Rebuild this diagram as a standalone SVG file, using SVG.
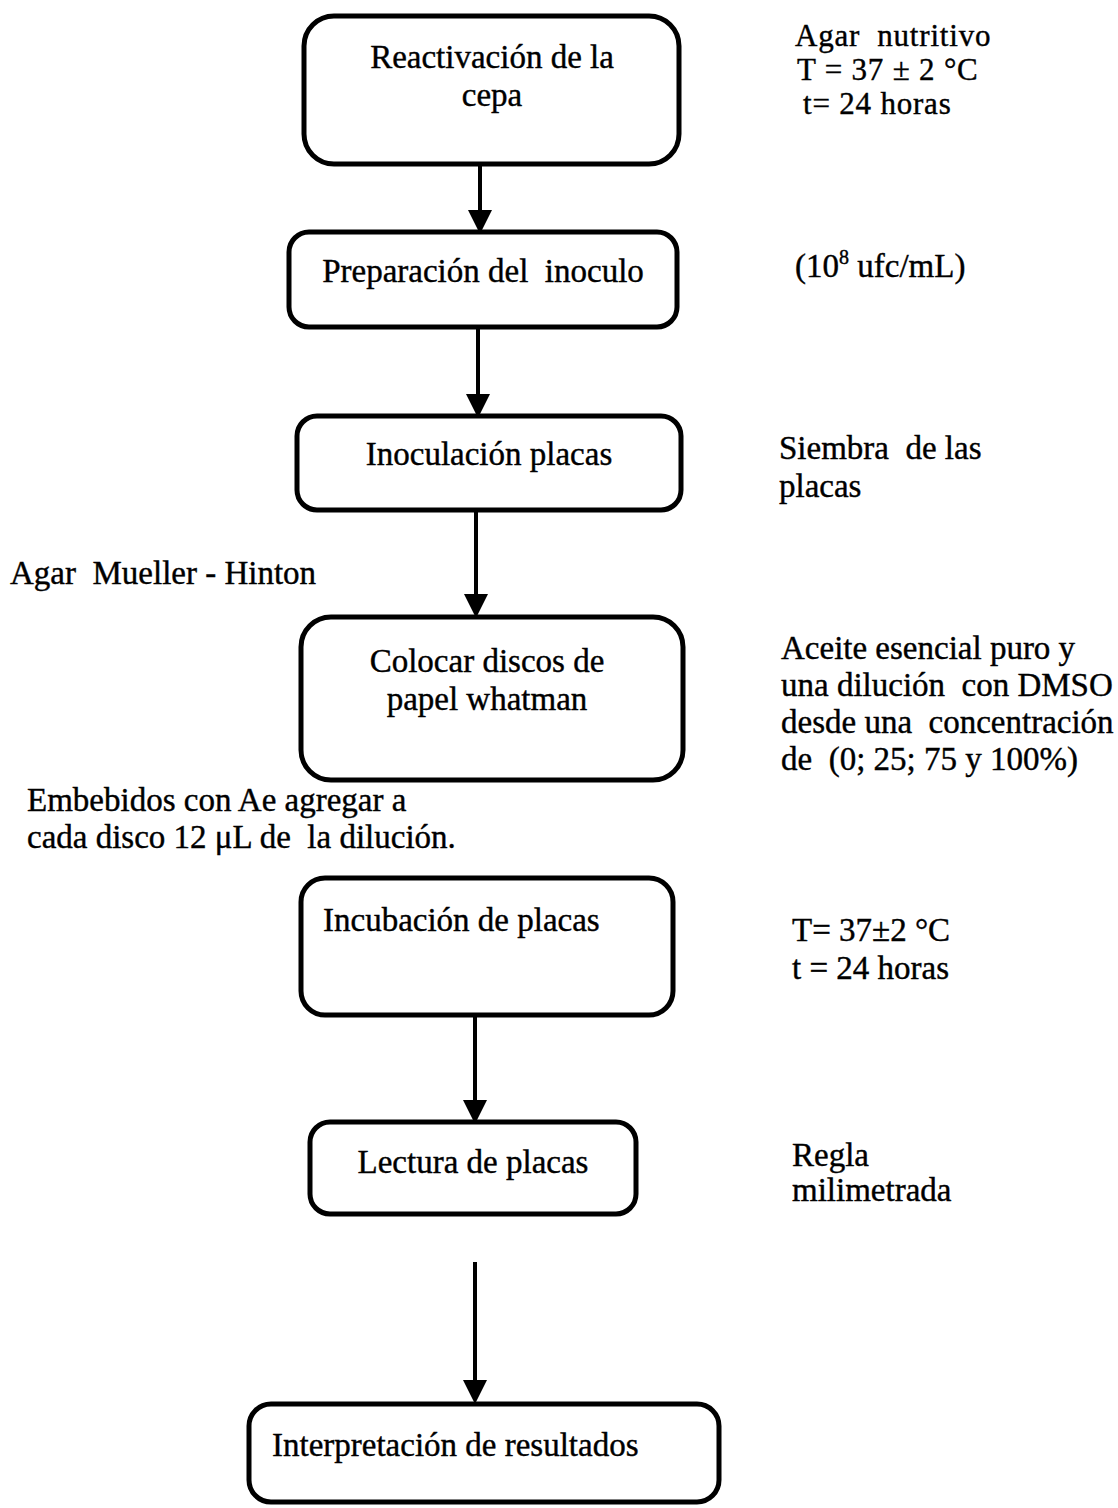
<svg xmlns="http://www.w3.org/2000/svg" width="1118" height="1508" viewBox="0 0 1118 1508">
<style>
.box{fill:none;stroke:#000;stroke-width:5}
.t{font-family:"Liberation Serif","Times New Roman",serif;font-size:33px;fill:#000;stroke:#000;stroke-width:0.4}
.s{font-size:31px;letter-spacing:0.8px}
.c{text-anchor:middle}
.edge{stroke:#000;stroke-width:4;fill:none}
</style>
<defs>
<marker id="ah" markerWidth="6" markerHeight="6" refX="5" refY="3" orient="auto" markerUnits="strokeWidth">
<path d="M0,0 L6,3 L0,6 Z" fill="#000"/>
</marker>
</defs>
<rect width="1118" height="1508" fill="#fff"/>
<g id="connectors">
<line class="edge" x1="480" y1="165" x2="480" y2="230" marker-end="url(#ah)"/>
<line class="edge" x1="478" y1="328" x2="478" y2="414" marker-end="url(#ah)"/>
<line class="edge" x1="476" y1="511" x2="476" y2="614" marker-end="url(#ah)"/>
<line class="edge" x1="475" y1="1016" x2="475" y2="1120" marker-end="url(#ah)"/>
<line class="edge" x1="475" y1="1262" x2="475" y2="1400" marker-end="url(#ah)"/>
</g>
<g id="n1">
<rect class="box" x="304" y="16" width="375" height="148" rx="30"/>
<text class="t c" x="492" y="68">Reactivación de la</text>
<text class="t c" x="492" y="106">cepa</text>
</g>
<g id="n2">
<rect class="box" x="289" y="232" width="388" height="95" rx="20"/>
<text class="t c" x="483" y="282" xml:space="preserve">Preparación del  inoculo</text>
</g>
<g id="n3">
<rect class="box" x="297" y="416" width="384" height="94" rx="20"/>
<text class="t c" x="489" y="465">Inoculación placas</text>
</g>
<g id="n4">
<rect class="box" x="301" y="617" width="382" height="163" rx="30"/>
<text class="t c" x="487" y="672">Colocar discos de</text>
<text class="t c" x="487" y="710">papel whatman</text>
</g>
<g id="n5">
<rect class="box" x="301" y="878" width="372" height="137" rx="24"/>
<text class="t" x="323" y="931">Incubación de placas</text>
</g>
<g id="n6">
<rect class="box" x="310" y="1122" width="326" height="92" rx="20"/>
<text class="t c" x="473" y="1173">Lectura de placas</text>
</g>
<g id="n7">
<rect class="box" x="249" y="1404" width="470" height="98" rx="22"/>
<text class="t" x="272" y="1456">Interpretación de resultados</text>
</g>
<g id="notes">
<text class="t s" x="795" y="46" xml:space="preserve">Agar  nutritivo</text>
<text class="t s" x="797" y="80">T = 37 ± 2 °C</text>
<text class="t s" x="803" y="114">t= 24 horas</text>
<text class="t" x="795" y="277">(10<tspan font-size="20" dy="-13">8</tspan><tspan dy="13"> ufc/mL)</tspan></text>
<text class="t" x="779" y="459" xml:space="preserve">Siembra  de las</text>
<text class="t" x="779" y="497">placas</text>
<text class="t" x="10" y="584" xml:space="preserve">Agar  Mueller - Hinton</text>
<text class="t" x="781" y="659">Aceite esencial puro y</text>
<text class="t" x="781" y="696" xml:space="preserve">una dilución  con DMSO</text>
<text class="t" x="781" y="733" xml:space="preserve">desde una  concentración</text>
<text class="t" x="781" y="770" xml:space="preserve">de  (0; 25; 75 y 100%)</text>
<text class="t" x="27" y="811">Embebidos con Ae agregar a</text>
<text class="t" x="27" y="848" xml:space="preserve">cada disco 12 μL de  la dilución.</text>
<text class="t" x="792" y="941">T= 37±2 °C</text>
<text class="t" x="792" y="979">t = 24 horas</text>
<text class="t" x="792" y="1166">Regla</text>
<text class="t" x="792" y="1201">milimetrada</text>
</g>
</svg>
